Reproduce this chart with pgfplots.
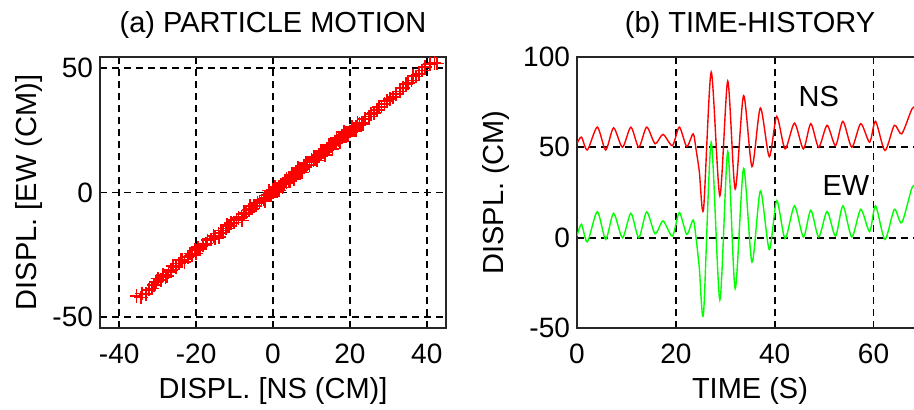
\documentclass[border=0pt]{standalone}
\usepackage{fontspec}
\setmainfont{Liberation Sans}
\usepackage{pgfplots}
\usepackage{pgfplotstable}
\pgfplotsset{compat=1.18}

\pgfplotstableread{
t ns ew
0.0 2.0 1.0
0.9 5.6 7.4
2.1 -1.5 -2.2
4.1 11.1 14.4
5.8 -1.5 -0.9
7.4 10.7 13.5
9.2 0.0 0.0
10.9 11.1 13.5
12.5 0.0 0.0
14.1 11.1 14.3
15.8 1.9 2.2
17.4 7.1 9.3
19.3 0.9 0.9
20.7 11.1 13.9
22.2 0.4 1.9
23.5 7.4 9.8
24.1 -1.5 -0.5
24.75 -13.5 -16.7
25.6 -34.2 -41.7
27.15 41.5 52.6
28.9 -26.8 -34.3
30.5 36.5 47.6
32.0 -23.1 -28.1
33.7 28.5 38.3
35.4 -10.7 -13.5
37.1 21.7 25.9
38.9 -5.2 -6.5
40.4 17.0 20.5
42.1 -0.9 -0.4
44.0 13.3 17.6
45.8 -0.9 0.4
47.3 13.0 15.2
48.9 0.0 0.4
50.6 12.1 14.5
52.3 0.9 0.9
53.8 14.3 17.6
55.6 0.0 0.4
57.4 13.0 15.7
59.2 2.8 3.4
60.4 14.3 17.6
62.3 -1.8 -0.9
64.2 12.1 15.7
65.7 7.4 8.3
67.8 21.3 27.8
68.8 22.0 28.0
}\timehist

\pgfplotstableread{
ns ew
-35.5 -41.5
-34.3 -42.2
-34.0 -40.5
-33.0 -40.8
-32.2 -39.0
-31.5 -38.5
-31.0 -37.2
-30.4 -36.0
-30.0 -34.5
-29.2 -35.0
-28.6 -33.0
-28.0 -33.8
-27.5 -33.5
-27.2 -32.0
-26.5 -31.0
-26.0 -29.5
-25.2 -29.8
-24.5 -28.5
-24.0 -27.0
-23.6 -27.0
-23.0 -27.8
-22.2 -25.8
-21.5 -24.5
-21.0 -25.2
-20.2 -23.0
-20.0 -24.5
-19.5 -22.0
-19.0 -22.8
-18.2 -21.0
-17.5 -20.5
-17.0 -19.2
-16.2 -18.8
-15.5 -17.5
-15.0 -18.2
-14.2 -16.5
-14.0 -17.8
-13.5 -15.2
-13.0 -16.0
-12.2 -14.5
-12.0 -13.0
-11.5 -13.5
-11.0 -12.2
-10.2 -12.0
-9.5 -11.0
-9.0 -10.2
-8.2 -9.8
-8.0 -11.2
-7.5 -8.5
-7.0 -8.0
-6.2 -7.0
-6.0 -5.5
-5.5 -6.5
-5.0 -5.5
-4.5 -5.2
-4.0 -4.2
-3.5 -3.8
-3.0 -3.2
-2.5 -2.5
-2.0 -2.2
-2.0 -3.5
-1.5 -1.2
-1.0 -1.0
-1.0 0.8
-0.5 -0.2
0.0 0.0
0.0 1.0
0.5 0.5
0.5 2.2
1.0 1.5
1.0 0.5
1.5 2.0
1.5 0.8
2.0 2.5
2.0 3.2
2.5 3.5
2.5 2.0
3.0 3.8
3.0 4.6
3.5 4.2
3.5 5.5
4.0 5.0
4.0 5.8
4.5 6.0
4.5 4.5
5.0 6.2
5.0 7.0
5.5 7.2
5.5 5.5
6.0 7.6
6.0 8.3
6.5 8.5
6.5 9.8
7.0 9.0
7.0 8.2
7.5 9.5
7.5 8.0
8.0 10.0
8.0 10.8
8.5 10.5
8.5 12.0
9.0 11.2
9.0 12.0
9.5 12.0
9.5 10.8
10.0 12.5
10.0 13.2
10.5 13.0
10.5 14.5
11.0 14.0
11.0 13.5
11.5 14.2
11.5 12.8
12.0 15.0
12.0 14.4
12.5 15.6
12.5 16.8
13.0 16.0
13.0 16.8
13.5 16.5
13.5 15.0
14.0 17.5
14.0 17.0
14.5 18.0
14.5 19.2
15.0 18.5
15.0 19.2
15.5 19.0
15.5 17.5
16.0 19.6
16.0 20.2
16.5 20.5
16.5 21.8
17.0 21.0
17.0 21.7
17.5 21.5
17.5 20.2
18.0 22.0
18.0 22.7
18.5 23.0
18.5 24.2
19.0 23.2
19.0 23.8
19.5 24.0
19.5 22.8
20.0 24.5
20.5 25.2
20.5 26.5
21.0 25.5
21.5 26.2
21.5 24.8
22.0 26.6
22.0 28.0
22.5 27.5
23.0 28.0
23.5 27.5
24.0 29.5
25.0 30.5
25.5 31.6
26.2 32.0
27.0 33.0
27.6 34.2
28.2 34.5
29.0 35.6
29.6 36.6
30.4 37.5
31.2 38.2
32.0 39.6
33.0 40.5
33.9 42.0
34.6 43.5
35.2 44.0
36.0 45.0
36.5 46.8
37.2 46.5
38.0 47.6
38.8 49.0
39.6 50.5
40.8 51.5
42.0 52.0
42.6 51.8
}\motion

\begin{document}
\begin{tikzpicture}
\pgfplotsset{
  myaxis/.style={
    scale only axis, width=173pt, height=135.8pt,
    axis line style={line width=1pt, black!85},
    grid=major,
    major grid style={dash pattern=on 3.5pt off 2.5pt, line width=0.8pt, black},
    major tick length=0pt,
    /pgf/number format/assume math mode=true,
    tick label style={font=\fontsize{14}{16}\selectfont},
    label style={font=\fontsize{14.5}{17}\selectfont},
    title style={font=\fontsize{14.5}{17}\selectfont, at={(axis description cs:0.5,1)}, anchor=base, yshift=6pt},
    xticklabel style={anchor=base, yshift=-17.5pt},
    xlabel style={at={(axis description cs:0.5,0)}, anchor=base, yshift=-35pt},
  }
}
\begin{axis}[myaxis, at={(0pt,0pt)}, anchor=south west,
  xmin=-45, xmax=45, ymin=-54.5, ymax=54.5,
  xtick={-40,-20,0,20,40}, ytick={-50,0,50},
  title={(a) PARTICLE MOTION},
  xlabel={DISPL. [NS (CM)]},
  ylabel={DISPL. [EW (CM)]},
  ylabel style={at={(axis description cs:-0.183,0.5)}, anchor=base}]
\addplot[only marks, mark=+, mark size=3.4pt, red, mark options={line width=0.85pt}] table[x=ns, y=ew] {\motion};
\end{axis}
\begin{axis}[myaxis, at={(238.5pt,0pt)}, anchor=south west,
  xmin=0, xmax=70, ymin=-50, ymax=100,
  xtick={0,20,40,60}, ytick={-50,0,50,100},
  title={(b) TIME-HISTORY},
  xlabel={TIME (S)},
  ylabel={DISPL. (CM)},
  ylabel style={at={(axis description cs:-0.213,0.5)}, anchor=base}]
\addplot[red, line width=0.7pt, smooth, tension=0.45] table[x=t, y expr=\thisrow{ns}+50] {\timehist};
\addplot[green, line width=0.7pt, smooth, tension=0.45] table[x=t, y=ew] {\timehist};
\node[font=\fontsize{14.5}{17}\selectfont] at (axis cs:48.9,78.2) {NS};
\node[font=\fontsize{14.5}{17}\selectfont] at (axis cs:54.4,28.7) {EW};
\end{axis}
\pgfresetboundingbox
\useasboundingbox (-50pt,-40.85pt) rectangle (407pt,164.15pt);
\end{tikzpicture}
\end{document}
